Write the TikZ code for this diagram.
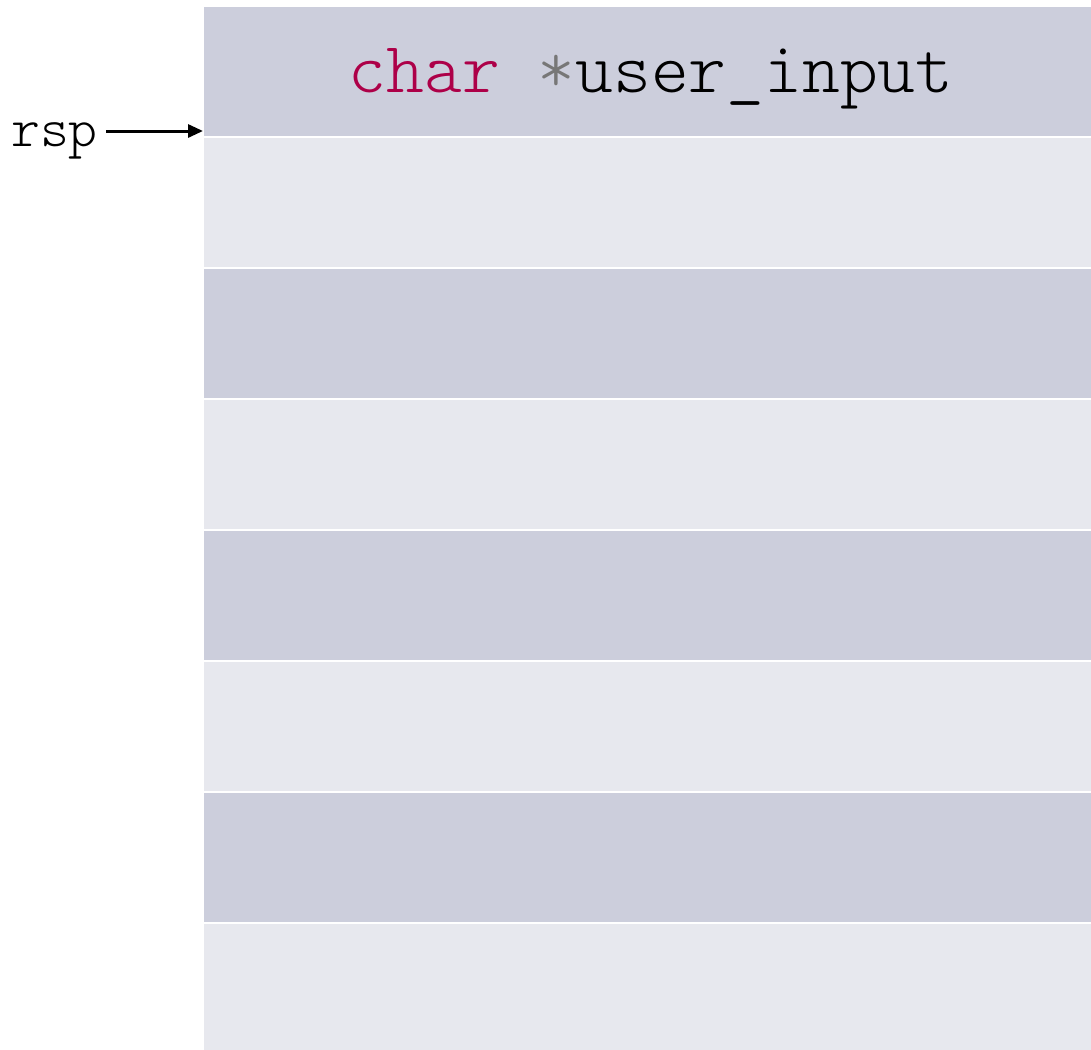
\documentclass[tikz,border=0pt]{standalone}
\usepackage{fontspec}
\setmonofont{Latin Modern Mono Light}
\usetikzlibrary{arrows.meta}
\definecolor{rowdark}{HTML}{CCCEDC}
\definecolor{rowlight}{HTML}{E7E8EE}
\definecolor{kwred}{HTML}{AD0048}
\definecolor{opgray}{HTML}{777777}
\begin{document}
\begin{tikzpicture}[x=1pt,y=-1pt,
  slot/.style={draw=none,minimum width=887pt,minimum height=129pt,inner sep=0pt,anchor=north west},
  darkslot/.style={slot,fill=rowdark},
  lightslot/.style={slot,fill=rowlight},
  code/.style={font=\ttfamily\fontsize{72}{72}\selectfont,inner sep=0pt},
  ptr/.style={-{Triangle[length=15pt,width=13pt]},line width=3pt}]
\useasboundingbox (0,0) rectangle (1091,1049);
% stack slots, alternating shades
\node[darkslot]  (r0) at (204,7)   {};
\node[lightslot] (r1) at (204,138) {};
\node[darkslot]  (r2) at (204,269) {};
\node[lightslot] (r3) at (204,400) {};
\node[darkslot]  (r4) at (204,531) {};
\node[lightslot] (r5) at (204,662) {};
\node[darkslot]  (r6) at (204,793) {};
\node[lightslot] (r7) at (204,924) {};
% contents of the top slot
\node[code,anchor=base] (var) at (651,92) {\textcolor{kwred}{char} \textcolor{opgray}{*}user\_input};
% stack pointer
\node[font=\ttfamily\fontsize{55}{55}\selectfont,inner sep=0pt,anchor=base west] (rsp) at (11,146) {rsp};
\coordinate (top) at (203,131);
\draw[ptr] (rsp.east |- top) ++(8,0) -- (top);
\end{tikzpicture}
\end{document}
